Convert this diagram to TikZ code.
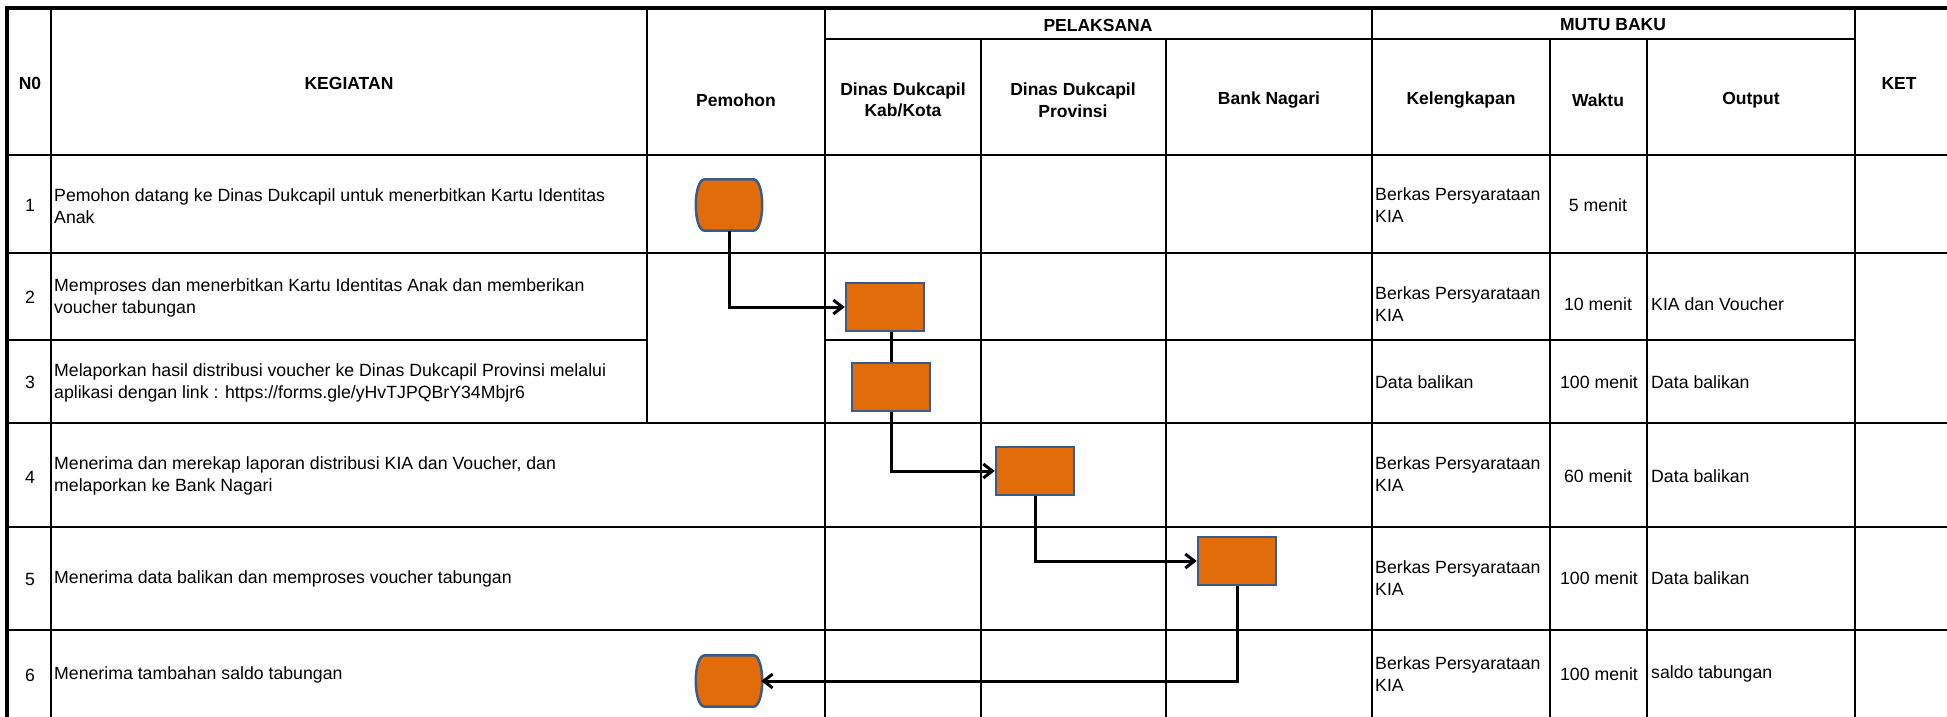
\documentclass[tikz,border=0pt]{standalone}
\usepackage{fontspec}
\setmainfont{Liberation Sans}
\usetikzlibrary{arrows.meta}
\definecolor{kiaorange}{RGB}{227,108,10}
\definecolor{kiaedge}{RGB}{56,93,138}

\begin{document}
\begin{tikzpicture}[x=1pt, y=-1pt, font=\fontsize{17.7}{21.5}\selectfont,
    ln/.style={line width=2.5pt},
    bd/.style={line width=4.5pt},
    hd/.style={font=\fontsize{17.5}{21.5}\selectfont\bfseries, align=center, inner sep=0pt},
    tx/.style={align=left, anchor=west, inner sep=0pt},
    ct/.style={align=center, inner sep=0pt},
    proc/.style={draw=kiaedge, fill=kiaorange, line width=2.5pt, minimum width=78pt, minimum height=48pt, inner sep=0pt},
    term/.style={minimum width=64pt, minimum height=51pt, inner sep=0pt},
    termshape/.style={draw=kiaedge, fill=kiaorange, line width=2.5pt, line join=round},
    flow/.style={line width=3pt, -{Straight Barb[length=9pt, width=14pt, line width=3pt]}}]
    \useasboundingbox (0,0) rectangle (1947,717);

    % table
    \draw[bd] (7,717) -- (7,8) -- (1947,8);
    \draw[ln] (51,8) -- (51,717) (647,8) -- (647,423) (825,8) -- (825,717)
    (981,39) -- (981,717) (1166,39) -- (1166,717) (1372,8) -- (1372,717)
    (1550,39) -- (1550,717) (1647,39) -- (1647,717) (1855,8) -- (1855,717);
    \draw[ln] (825,39) -- (1855,39) (7,340) -- (647,340) (825,340) -- (1855,340);
    \foreach \y in {155,253,423,527,630}
      \draw[ln] (7,\y) -- (1947,\y);

    \node[hd] (no) at (30,83) {N0};
    \node[hd] (keg) at (349,83) {KEGIATAN};
    \node[hd] (pem) at (736,100) {Pemohon};
    \node[hd] (pel) at (1098,25) {PELAKSANA};
    \node[hd] (kab) at (903,100) {Dinas Dukcapil\\Kab/Kota};
    \node[hd] (prov) at (1073,100) {Dinas Dukcapil\\Provinsi};
    \node[hd] (bank) at (1269,100) {Bank Nagari};
    \node[hd] (mutu) at (1613,25) {MUTU BAKU};
    \node[hd] (kel) at (1461,100) {Kelengkapan};
    \node[hd] (wkt) at (1598,100) {Waktu};
    \node[hd] (outp) at (1751,100) {Output};
    \node[hd] (ket) at (1899,83) {KET};

    \foreach \n/\y in {1/205,2/297,3/382,4/477,5/579,6/675}
      \node[ct] (n\n) at (30,\y) {\n};

    \node[tx] (k1) at (54,206) {Pemohon datang ke Dinas Dukcapil untuk menerbitkan Kartu Identitas\\Anak};
    \node[tx] (k2) at (54,298) {Memproses dan menerbitkan Kartu Identitas Anak dan memberikan\\voucher tabungan};
    \node[tx] (k3) at (54,383) {Melaporkan hasil distribusi voucher ke Dinas Dukcapil Provinsi melalui\\aplikasi dengan link : https://forms.gle/yHvTJPQBrY34Mbjr6};
    \node[tx] (k4) at (54,476) {Menerima dan merekap laporan distribusi KIA dan Voucher, dan\\melaporkan ke Bank Nagari};
    \node[tx] (k5) at (54,579) {Menerima data balikan dan memproses voucher tabungan};
    \node[tx] (k6) at (54,675) {Menerima tambahan saldo tabungan};

    \node[tx] (l1) at (1375,205) {Berkas Persyarataan\\KIA};
    \node[tx] (l2) at (1375,304) {Berkas Persyarataan\\KIA};
    \node[tx] (l3) at (1375,382) {Data balikan};
    \node[tx] (l4) at (1375,474) {Berkas Persyarataan\\KIA};
    \node[tx] (l5) at (1375,578) {Berkas Persyarataan\\KIA};
    \node[tx] (l6) at (1375,674) {Berkas Persyarataan\\KIA};

    \node[ct] (w1) at (1598,205) {5 menit};
    \node[ct] (w2) at (1598,304) {10 menit};
    \node[ct] (w3) at (1599,382) {100 menit};
    \node[ct] (w4) at (1598,476) {60 menit};
    \node[ct] (w5) at (1599,578) {100 menit};
    \node[ct] (w6) at (1599,674) {100 menit};

    \node[tx] (o2) at (1651,304) {KIA dan Voucher};
    \node[tx] (o3) at (1651,382) {Data balikan};
    \node[tx] (o4) at (1651,476) {Data balikan};
    \node[tx] (o5) at (1651,578) {Data balikan};
    \node[tx] (o6) at (1651,674) {saldo tabungan};

    % flow
    \node[term] (t1) at (729,205) {};
    \node[proc] (p2) at (885,307) {};
    \node[proc] (p3) at (891,387) {};
    \node[proc] (p4) at (1035,471) {};
    \node[proc] (p5) at (1237,561) {};
    \node[term] (t6) at (729,681) {};
    \foreach \t in {t1,t6}
      \draw[termshape] ([xshift=8pt]\t.north west) -- ([xshift=-8pt]\t.north east)
      .. controls ([xshift=4pt]\t.north east) and ([xshift=4pt]\t.south east) .. ([xshift=-8pt]\t.south east)
      -- ([xshift=8pt]\t.south west)
      .. controls ([xshift=-4pt]\t.south west) and ([xshift=-4pt]\t.north west) .. cycle;

    \draw[flow] (t1) |- (p2);
    \draw[line width=3pt] (p2.south -| p3.north) -- (p3.north);
    \draw[flow] (p3) |- (p4);
    \draw[flow] (p4) |- (p5);
    \draw[flow] (p5) |- (t6);
  \end{tikzpicture}
\end{document}
